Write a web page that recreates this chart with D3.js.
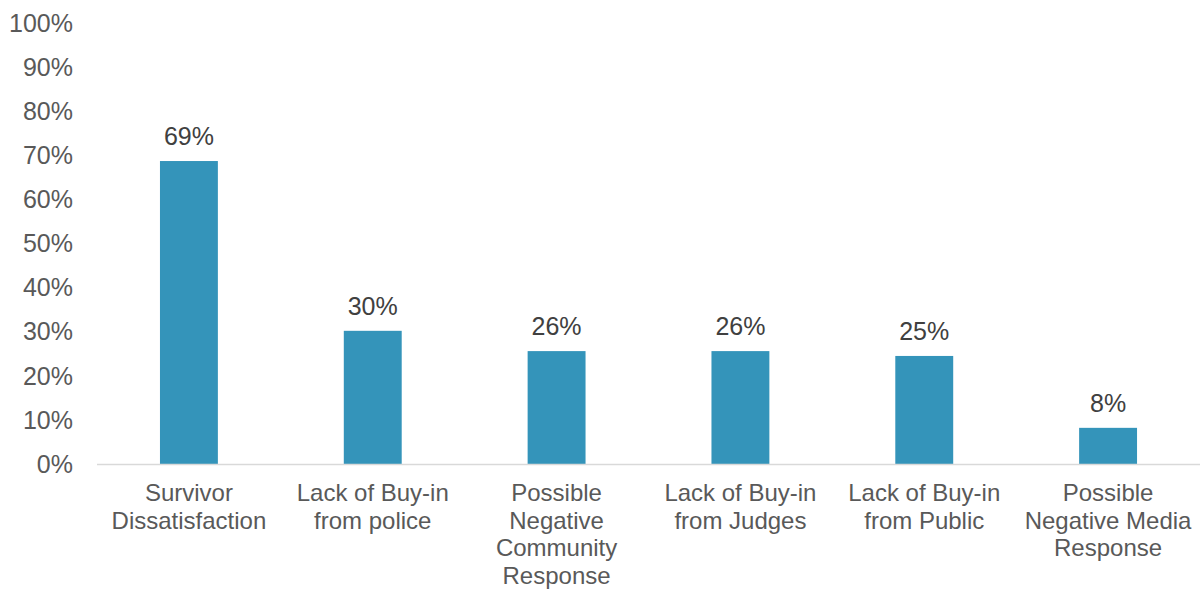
<!DOCTYPE html>
<html>
<head>
<meta charset="utf-8">
<script src="https://cdn.jsdelivr.net/npm/d3@7"></script>
<style>
    body { margin: 0; background: #fff; }
    svg { display: block; font-family: "Liberation Sans", Arial, sans-serif; }
</style>
</head>
<body>
<svg id="chart" width="1202" height="589"></svg>
<script>
// chart data
const categories = [
    "Survivor Dissatisfaction",
    "Lack of Buy-in from police",
    "Possible Negative Community Response",
    "Lack of Buy-in from Judges",
    "Lack of Buy-in from Public",
    "Possible Negative Media Response"
];
const categoryLines = [
    ["Survivor", "Dissatisfaction"],
    ["Lack of Buy-in", "from police"],
    ["Possible", "Negative", "Community", "Response"],
    ["Lack of Buy-in", "from Judges"],
    ["Lack of Buy-in", "from Public"],
    ["Possible", "Negative Media", "Response"]
];
const values = [68.7, 30.2, 25.6, 25.6, 24.5, 8.2];
const valueLabels = ["69%", "30%", "26%", "26%", "25%", "8%"];
const yTicks = [0, 10, 20, 30, 40, 50, 60, 70, 80, 90, 100];

const svg = d3.select("#chart");
const plotLeft = 97, plotRight = 1200, plotTop = 23, plotBottom = 464;

const x = d3.scaleBand()
    .domain(categories)
    .range([plotLeft, plotRight])
    .paddingInner(0.685)
    .paddingOuter(0.3425);

const y = d3.scaleLinear()
    .domain([0, 100])
    .range([plotBottom, plotTop]);

// y tick labels (no axis line in the original)
svg.append("g")
    .selectAll("text")
    .data(yTicks)
    .join("text")
    .attr("x", 73)
    .attr("y", d => y(d))
    .attr("dy", "0.35em")
    .attr("text-anchor", "end")
    .attr("fill", "#595959")
    .attr("font-size", "25px")
    .text(d => d + "%");

// bars
svg.append("g")
    .selectAll("rect")
    .data(values)
    .join("rect")
    .attr("x", (d, i) => x(categories[i]))
    .attr("y", d => y(d))
    .attr("width", x.bandwidth())
    .attr("height", d => y(0) - y(d))
    .attr("fill", "#3494ba");

// data labels
svg.append("g")
    .selectAll("text")
    .data(values)
    .join("text")
    .attr("x", (d, i) => x(categories[i]) + x.bandwidth() / 2)
    .attr("y", d => y(d) - 16)
    .attr("text-anchor", "middle")
    .attr("fill", "#404040")
    .attr("font-size", "25px")
    .text((d, i) => valueLabels[i]);

// x axis baseline
svg.append("line")
    .attr("x1", plotLeft)
    .attr("x2", plotRight)
    .attr("y1", y(0) + 0.5)
    .attr("y2", y(0) + 0.5)
    .attr("stroke", "#d9d9d9")
    .attr("stroke-width", 1.5);

// category labels, wrapped like the original
const cat = svg.append("g")
    .selectAll("text")
    .data(categories)
    .join("text")
    .attr("x", d => x(d) + x.bandwidth() / 2)
    .attr("y", 501)
    .attr("text-anchor", "middle")
    .attr("fill", "#595959")
    .attr("font-size", "24px");

cat.each(function(d, i) {
    d3.select(this).selectAll("tspan")
        .data(categoryLines[i])
        .join("tspan")
        .attr("x", x(d) + x.bandwidth() / 2)
        .attr("dy", (t, j) => j === 0 ? 0 : 27.6)
        .text(t => t);
});
</script>
</body>
</html>
